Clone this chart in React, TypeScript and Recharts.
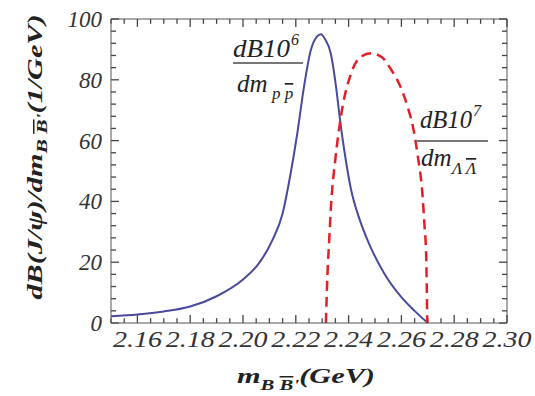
import { LineChart, Line, XAxis, YAxis, ReferenceLine } from "recharts";

// x axis (GeV)
const X_MAJOR = [2.16, 2.18, 2.2, 2.22, 2.24, 2.26, 2.28, 2.3];
const X_LABELS = ["2.16", "2.18", "2.20", "2.22", "2.24", "2.26", "2.28", "2.30"];
const X_TICKS = [
  2.15, 2.155, 2.16, 2.165, 2.17, 2.175, 2.18, 2.185, 2.19, 2.195, 2.2, 2.205, 2.21, 2.215, 2.22, 2.225,
  2.23, 2.235, 2.24, 2.245, 2.25, 2.255, 2.26, 2.265, 2.27, 2.275, 2.28, 2.285, 2.29, 2.295, 2.3,
];

// y axis
const Y_MAJOR = [0, 20, 40, 60, 80, 100];
const Y_TICKS = [0, 4, 8, 12, 16, 20, 24, 28, 32, 36, 40, 44, 48, 52, 56, 60, 64, 68, 72, 76, 80, 84, 88, 92, 96, 100];

// p pbar curve (x 10^6)
const PP_MASS = [
  2.15, 2.16, 2.17, 2.18, 2.19, 2.2, 2.206, 2.211, 2.215, 2.218, 2.2205, 2.2231, 2.2257, 2.228, 2.2295, 2.231,
  2.2333, 2.2352, 2.2368, 2.2385, 2.2409, 2.244, 2.2472, 2.2535, 2.2599, 2.265, 2.27,
];
const PP_RATE = [
  2.2, 2.8, 3.8, 5.4, 8.8, 14.3, 19.6, 27, 36, 49, 62, 77.7, 89.8, 94.2, 95, 93.5, 88.5, 78, 66.5, 56, 44,
  34.5, 27.2, 16.3, 8.6, 4, 0,
];

// Lambda Lambdabar curve (x 10^7)
const LL_MASS = [
  2.2314, 2.232, 2.2327, 2.2333, 2.235, 2.2371, 2.2409, 2.2445, 2.2485, 2.2525, 2.256, 2.2595, 2.2624, 2.2645,
  2.2662, 2.268, 2.2687, 2.2694, 2.2698,
];
const LL_RATE = [0, 16, 28, 38, 54, 68, 82, 87.5, 88.7, 87.5, 83.5, 78, 71, 64, 55, 42, 32.7, 21.7, 0];

const ppData = PP_MASS.map((x, i) => ({ x, y: PP_RATE[i] }));
const llData = LL_MASS.map((x, i) => ({ x, y: LL_RATE[i] }));

const X_MIN = 2.15;
const X_MAX = 2.3;
const FRAME = "#555";
const TICK = "#444";
const SERIF = "'Liberation Serif', 'Times New Roman', Times, serif";

const isMajor = (list: number[], v: number) => list.findIndex((m) => Math.abs(m - v) < 1e-6);

function BottomTick({ x, y, payload }: any) {
  const i = isMajor(X_MAJOR, payload.value);
  if (i < 0) return <g />;
  return (
    <text
      x={x}
      y={y + 24}
      textAnchor="middle"
      style={{ fontFamily: SERIF, fontStyle: "italic", fontSize: 23 }}
      fill="#333"
      textLength={49}
      lengthAdjust="spacingAndGlyphs"
    >
      {X_LABELS[i]}
    </text>
  );
}

function LeftTick({ x, y, payload }: any) {
  const label = String(payload.value);
  return (
    <text
      x={x - 9}
      y={y + 8}
      textAnchor="end"
      style={{ fontFamily: SERIF, fontStyle: "italic", fontSize: 23 }}
      fill="#333"
      textLength={label.length * 11.5}
      lengthAdjust="spacingAndGlyphs"
    >
      {label}
    </text>
  );
}

// inward frame ticks, lengths in data units (major ~8px, minor ~5px)
const xTickLen = (v: number) => (isMajor(X_MAJOR, v) >= 0 ? 2.6 : 1.6);
const yTickLen = (v: number) => (isMajor(Y_MAJOR, v) >= 0 ? 0.003 : 0.0019);

const txt = { fontFamily: SERIF, fontStyle: "italic" };

export default function App() {
  return (
    <div style={{ position: "absolute", left: 0, top: 0, width: 535, height: 396, background: "#fff" }}>
      <LineChart width={535} height={396} margin={{ top: 19, right: 28, bottom: 33, left: 0 }}>
        <XAxis
          dataKey="x"
          type="number"
          domain={[X_MIN, X_MAX]}
          ticks={X_TICKS}
          interval={0}
          tickSize={0}
          tickMargin={0}
          tickLine={false}
          tick={BottomTick}
          axisLine={{ stroke: FRAME }}
          height={40}
        />
        <YAxis
          type="number"
          domain={[0, 100]}
          ticks={Y_MAJOR}
          interval={0}
          tickSize={0}
          tickMargin={0}
          tickLine={false}
          tick={LeftTick}
          axisLine={{ stroke: FRAME }}
          width={111}
        />
        <ReferenceLine y={100} stroke={FRAME} ifOverflow="visible" />
        <ReferenceLine x={X_MAX} stroke={FRAME} ifOverflow="visible" />
        {X_TICKS.map((v) => (
          <ReferenceLine
            key={`b${v}`}
            segment={[
              { x: v, y: 0 },
              { x: v, y: xTickLen(v) },
            ]}
            stroke={TICK}
            strokeWidth={1.3}
            ifOverflow="visible"
          />
        ))}
        {X_TICKS.map((v) => (
          <ReferenceLine
            key={`t${v}`}
            segment={[
              { x: v, y: 100 },
              { x: v, y: 100 - xTickLen(v) },
            ]}
            stroke={TICK}
            strokeWidth={1.3}
            ifOverflow="visible"
          />
        ))}
        {Y_TICKS.map((v) => (
          <ReferenceLine
            key={`l${v}`}
            segment={[
              { x: X_MIN, y: v },
              { x: X_MIN + yTickLen(v), y: v },
            ]}
            stroke={TICK}
            strokeWidth={1.3}
            ifOverflow="visible"
          />
        ))}
        {Y_TICKS.map((v) => (
          <ReferenceLine
            key={`r${v}`}
            segment={[
              { x: X_MAX, y: v },
              { x: X_MAX - yTickLen(v), y: v },
            ]}
            stroke={TICK}
            strokeWidth={1.3}
            ifOverflow="visible"
          />
        ))}
        <Line
          data={ppData}
          dataKey="y"
          type="monotone"
          stroke="#4a4a9c"
          strokeWidth={2}
          dot={false}
          isAnimationActive={false}
        />
        <Line
          data={llData}
          dataKey="y"
          type="monotone"
          stroke="#e41e26"
          strokeWidth={2.5}
          strokeDasharray="10 6"
          dot={false}
          isAnimationActive={false}
        />
      </LineChart>

      <svg
        width={535}
        height={396}
        style={{ position: "absolute", left: 0, top: 0, pointerEvents: "none" }}
        fill="#222"
      >
        {/* y axis title */}
        <text
          transform="translate(42,157) rotate(-90)"
          textAnchor="middle"
          style={{ ...txt, fontWeight: "bold", fontSize: 21 }}
          textLength={285}
          lengthAdjust="spacingAndGlyphs"
        >
          dB(J/ψ)/dm
          <tspan fontSize={15} dy={5}>
            B{" "}
          </tspan>
          <tspan fontSize={15} style={{ textDecoration: "overline" }}>
            B
          </tspan>
          <tspan fontSize={15}>'</tspan>
          <tspan fontSize={21} dy={-5}>
            (1/GeV)
          </tspan>
        </text>

        {/* x axis title */}
        <text x={237} y={383} style={{ ...txt, fontWeight: "bold", fontSize: 22 }} textLength={138} lengthAdjust="spacingAndGlyphs">
          m
          <tspan fontSize={15} dy={7}>
            B{" "}
          </tspan>
          <tspan fontSize={15} style={{ textDecoration: "overline" }}>
            B
          </tspan>
          <tspan fontSize={15}>'</tspan>
          <tspan fontSize={22} dy={-7}>
            (GeV)
          </tspan>
        </text>

        {/* p pbar annotation */}
        <text x={233} y={57} style={{ ...txt, fontSize: 25 }} textLength={57} lengthAdjust="spacingAndGlyphs">
          dB10
        </text>
        <text x={291} y={45} style={{ ...txt, fontSize: 16 }}>
          6
        </text>
        <line x1={233} x2={303} y1={63} y2={63} stroke="#777" strokeWidth={2} />
        <text x={237} y={92} style={{ ...txt, fontSize: 25 }}>
          dm
        </text>
        <text x={272} y={99} style={{ ...txt, fontSize: 17 }}>
          p <tspan style={{ textDecoration: "overline" }}>p</tspan>
        </text>

        {/* Lambda Lambdabar annotation */}
        <text x={420} y={128} style={{ ...txt, fontSize: 25 }} textLength={52} lengthAdjust="spacingAndGlyphs">
          dB10
        </text>
        <text x={473} y={116} style={{ ...txt, fontSize: 16 }}>
          7
        </text>
        <line x1={416} x2={488} y1={141} y2={141} stroke="#777" strokeWidth={2} />
        <text x={421} y={166} style={{ ...txt, fontSize: 25 }}>
          dm
        </text>
        <text x={452} y={174} style={{ ...txt, fontSize: 17 }}>
          Λ <tspan style={{ textDecoration: "overline" }}>Λ</tspan>
        </text>
      </svg>
    </div>
  );
}
